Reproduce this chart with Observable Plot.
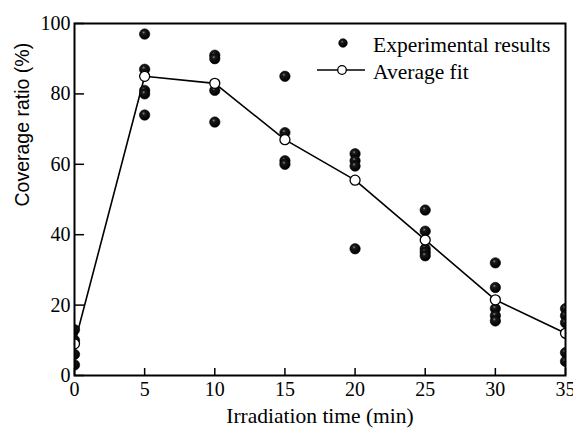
<!DOCTYPE html>
<html><head><meta charset="utf-8">
<script src="https://cdn.jsdelivr.net/npm/d3@7"></script>
<script src="https://cdn.jsdelivr.net/npm/@observablehq/plot@0.6"></script>
<style>body{margin:0;background:#fff}</style>
</head><body><div id="chart"></div>
<script>
const times = [0, 5, 10, 15, 20, 25, 30, 35];
const experimental = [
  [13, 10, 6, 3],
  [97, 87, 81, 80, 74],
  [91, 90, 81, 72],
  [85, 69, 61, 60],
  [63, 61, 59.5, 36],
  [47, 41, 36, 35, 34],
  [32, 25, 19, 17, 15.5],
  [19, 17, 15, 6.5, 4]
];
const averageFit = [9, 85, 83, 67, 55.5, 38.5, 21.5, 12];
const xTicks = [0, 5, 10, 15, 20, 25, 30, 35];
const yTicks = [0, 20, 40, 60, 80, 100];
const xLabel = "Irradiation time (min)";
const yLabel = "Coverage ratio (%)";
const legendLabels = ["Experimental results", "Average fit"];

const expData = times.flatMap((t, i) => experimental[i].map(v => ({t, v})));
const fitData = times.map((t, i) => ({t, v: averageFit[i]}));

const W = 573, H = 435, mL = 74, mR = 8, mT = 23, mB = 60;
const pw = W - mL - mR, ph = H - mT - mB;

const svg = Plot.plot({
  width: W, height: H,
  marginLeft: mL, marginRight: mR, marginTop: mT, marginBottom: mB,
  style: {fontFamily: "Liberation Serif", fontSize: "20px", color: "#000", background: "#fff"},
  x: {domain: [0, 35]},
  y: {domain: [0, 100]},
  marks: [
    Plot.axisX({ticks: xTicks, tickSize: 0, tickPadding: 6, label: null, fontSize: 20}),
    Plot.axisY({ticks: yTicks, tickSize: 0, tickPadding: 4, label: null, fontSize: 20}),
    Plot.tickX(xTicks, {x: d => d, insetTop: ph - 7, strokeWidth: 1.5, stroke: "#000"}),
    Plot.tickY(yTicks, {y: d => d, insetRight: pw - 10, strokeWidth: 1.5, stroke: "#000"}),
    Plot.line(fitData, {x: "t", y: "v", stroke: "#000", strokeWidth: 1.6}),
    Plot.dot(expData, {x: "t", y: "v", r: 5.2, fill: "url(#shine)", stroke: "#000", strokeWidth: 0.6, clip: true}),
    Plot.dot(fitData, {x: "t", y: "v", r: 5, fill: "#fff", stroke: "#000", strokeWidth: 1.3, clip: true}),
    Plot.frame({stroke: "#000", strokeWidth: 2}),
    Plot.text([xLabel], {frameAnchor: "bottom", dy: 47, fontSize: 21.5, fill: "#000"}),
    Plot.text([yLabel], {frameAnchor: "left", dx: -52, dy: 7, rotate: -90, fontSize: 19.5, fontFamily: "Liberation Sans", fill: "#000"})
  ]
});

const s = d3.select(svg);
const grad = s.insert("defs", ":first-child").append("radialGradient")
  .attr("id", "shine").attr("cx", "40%").attr("cy", "35%").attr("r", "60%");
grad.append("stop").attr("offset", "0%").attr("stop-color", "#8a8a8a");
grad.append("stop").attr("offset", "25%").attr("stop-color", "#1a1a1a");
grad.append("stop").attr("offset", "100%").attr("stop-color", "#000");

const lg = s.append("g").attr("font-family", "Liberation Serif").attr("font-size", 21.5).attr("text-anchor", "start");
lg.append("circle").attr("cx", 343).attr("cy", 43).attr("r", 4.3).attr("fill", "url(#shine)").attr("stroke", "#000").attr("stroke-width", 0.6);
lg.append("text").attr("x", 373).attr("y", 44).attr("dy", "0.35em").attr("text-anchor", "start").text(legendLabels[0]);
lg.append("line").attr("x1", 317).attr("x2", 365).attr("y1", 70).attr("y2", 70).attr("stroke", "#000").attr("stroke-width", 1.6);
lg.append("circle").attr("cx", 342).attr("cy", 70).attr("r", 4.3).attr("fill", "#fff").attr("stroke", "#000").attr("stroke-width", 1.3);
lg.append("text").attr("x", 373).attr("y", 71).attr("dy", "0.35em").attr("text-anchor", "start").text(legendLabels[1]);

document.getElementById("chart").appendChild(svg);
</script>
</body></html>
